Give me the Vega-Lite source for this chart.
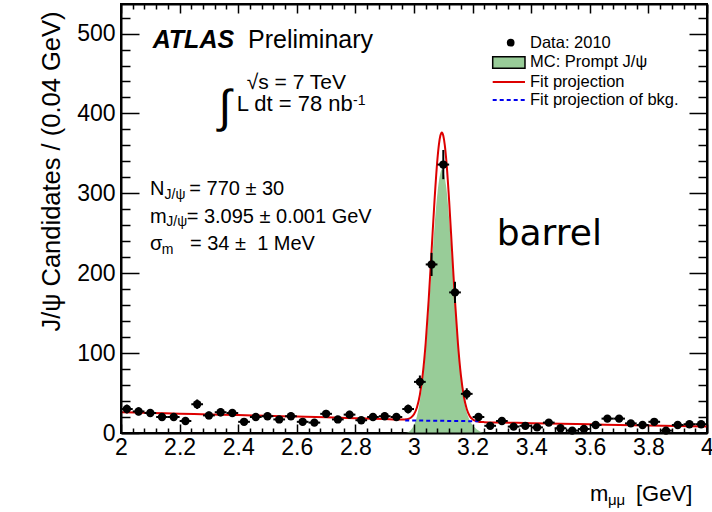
{
  "$schema": "https://vega.github.io/schema/vega-lite/v6.json",
  "width": 586,
  "height": 429,
  "autosize": {"type": "none"},
  "padding": {"left": 121, "top": 4, "right": 5, "bottom": 79},
  "background": "white",
  "config": {
    "view": {"stroke": "black", "strokeWidth": 2},
    "font": "Liberation Sans",
    "text": {"font": "Liberation Sans", "color": "black"}
  },
  "datasets": {
    "pts": [
      {"m": 2.02, "n": 30, "lo": 24.5, "hi": 35.5, "x0": 2.00, "x1": 2.04},
      {"m": 2.06, "n": 27, "lo": 21.8, "hi": 32.2, "x0": 2.04, "x1": 2.08},
      {"m": 2.10, "n": 25, "lo": 20.0, "hi": 30.0, "x0": 2.08, "x1": 2.12},
      {"m": 2.14, "n": 20, "lo": 15.5, "hi": 24.5, "x0": 2.12, "x1": 2.16},
      {"m": 2.18, "n": 20, "lo": 15.5, "hi": 24.5, "x0": 2.16, "x1": 2.20},
      {"m": 2.22, "n": 15, "lo": 11.1, "hi": 18.9, "x0": 2.20, "x1": 2.24},
      {"m": 2.26, "n": 36, "lo": 30.0, "hi": 42.0, "x0": 2.24, "x1": 2.28},
      {"m": 2.30, "n": 22, "lo": 17.3, "hi": 26.7, "x0": 2.28, "x1": 2.32},
      {"m": 2.34, "n": 26, "lo": 20.9, "hi": 31.1, "x0": 2.32, "x1": 2.36},
      {"m": 2.38, "n": 25, "lo": 20.0, "hi": 30.0, "x0": 2.36, "x1": 2.40},
      {"m": 2.42, "n": 14, "lo": 10.3, "hi": 17.7, "x0": 2.40, "x1": 2.44},
      {"m": 2.46, "n": 20, "lo": 15.5, "hi": 24.5, "x0": 2.44, "x1": 2.48},
      {"m": 2.50, "n": 21, "lo": 16.4, "hi": 25.6, "x0": 2.48, "x1": 2.52},
      {"m": 2.54, "n": 17, "lo": 12.9, "hi": 21.1, "x0": 2.52, "x1": 2.56},
      {"m": 2.58, "n": 21, "lo": 16.4, "hi": 25.6, "x0": 2.56, "x1": 2.60},
      {"m": 2.62, "n": 14, "lo": 10.3, "hi": 17.7, "x0": 2.60, "x1": 2.64},
      {"m": 2.66, "n": 13, "lo": 9.4, "hi": 16.6, "x0": 2.64, "x1": 2.68},
      {"m": 2.70, "n": 24, "lo": 19.1, "hi": 28.9, "x0": 2.68, "x1": 2.72},
      {"m": 2.74, "n": 17, "lo": 12.9, "hi": 21.1, "x0": 2.72, "x1": 2.76},
      {"m": 2.78, "n": 23, "lo": 18.2, "hi": 27.8, "x0": 2.76, "x1": 2.80},
      {"m": 2.82, "n": 16, "lo": 12.0, "hi": 20.0, "x0": 2.80, "x1": 2.84},
      {"m": 2.86, "n": 20, "lo": 15.5, "hi": 24.5, "x0": 2.84, "x1": 2.88},
      {"m": 2.90, "n": 21, "lo": 16.4, "hi": 25.6, "x0": 2.88, "x1": 2.92},
      {"m": 2.94, "n": 20, "lo": 15.5, "hi": 24.5, "x0": 2.92, "x1": 2.96},
      {"m": 2.98, "n": 30, "lo": 24.5, "hi": 35.5, "x0": 2.96, "x1": 3.00},
      {"m": 3.02, "n": 64, "lo": 56.0, "hi": 72.0, "x0": 3.00, "x1": 3.04},
      {"m": 3.06, "n": 211, "lo": 196.5, "hi": 225.5, "x0": 3.04, "x1": 3.08},
      {"m": 3.10, "n": 336, "lo": 317.7, "hi": 354.3, "x0": 3.08, "x1": 3.12},
      {"m": 3.14, "n": 176, "lo": 162.7, "hi": 189.3, "x0": 3.12, "x1": 3.16},
      {"m": 3.18, "n": 49, "lo": 42.0, "hi": 56.0, "x0": 3.16, "x1": 3.20},
      {"m": 3.22, "n": 20, "lo": 15.5, "hi": 24.5, "x0": 3.20, "x1": 3.24},
      {"m": 3.26, "n": 9, "lo": 6.0, "hi": 12.0, "x0": 3.24, "x1": 3.28},
      {"m": 3.30, "n": 15, "lo": 11.1, "hi": 18.9, "x0": 3.28, "x1": 3.32},
      {"m": 3.34, "n": 8, "lo": 5.2, "hi": 10.8, "x0": 3.32, "x1": 3.36},
      {"m": 3.38, "n": 9, "lo": 6.0, "hi": 12.0, "x0": 3.36, "x1": 3.40},
      {"m": 3.42, "n": 7, "lo": 4.4, "hi": 9.6, "x0": 3.40, "x1": 3.44},
      {"m": 3.46, "n": 13, "lo": 9.4, "hi": 16.6, "x0": 3.44, "x1": 3.48},
      {"m": 3.50, "n": 6, "lo": 3.6, "hi": 8.4, "x0": 3.48, "x1": 3.52},
      {"m": 3.54, "n": 3, "lo": 1.3, "hi": 4.7, "x0": 3.52, "x1": 3.56},
      {"m": 3.58, "n": 5, "lo": 2.8, "hi": 7.2, "x0": 3.56, "x1": 3.60},
      {"m": 3.62, "n": 10, "lo": 6.8, "hi": 13.2, "x0": 3.60, "x1": 3.64},
      {"m": 3.66, "n": 18, "lo": 13.8, "hi": 22.2, "x0": 3.64, "x1": 3.68},
      {"m": 3.70, "n": 18, "lo": 13.8, "hi": 22.2, "x0": 3.68, "x1": 3.72},
      {"m": 3.74, "n": 12, "lo": 8.5, "hi": 15.5, "x0": 3.72, "x1": 3.76},
      {"m": 3.78, "n": 10, "lo": 6.8, "hi": 13.2, "x0": 3.76, "x1": 3.80},
      {"m": 3.82, "n": 14, "lo": 10.3, "hi": 17.7, "x0": 3.80, "x1": 3.84},
      {"m": 3.86, "n": 3, "lo": 1.3, "hi": 4.7, "x0": 3.84, "x1": 3.88},
      {"m": 3.90, "n": 10, "lo": 6.8, "hi": 13.2, "x0": 3.88, "x1": 3.92},
      {"m": 3.94, "n": 11, "lo": 7.7, "hi": 14.3, "x0": 3.92, "x1": 3.96},
      {"m": 3.98, "n": 11, "lo": 7.7, "hi": 14.3, "x0": 3.96, "x1": 4.00}
    ],
    "fit": [
      {"m": 2.0, "n": 26}, {"m": 2.1, "n": 25.1}, {"m": 2.2, "n": 24.2}, {"m": 2.3, "n": 23.3},
      {"m": 2.4, "n": 22.4}, {"m": 2.5, "n": 21.5}, {"m": 2.6, "n": 20.6}, {"m": 2.7, "n": 19.6},
      {"m": 2.8, "n": 18.6}, {"m": 2.9, "n": 17.5}, {"m": 2.94, "n": 16.9}, {"m": 2.95, "n": 16.8},
      {"m": 2.96, "n": 16.8}, {"m": 2.97, "n": 17.0}, {"m": 2.98, "n": 17.6}, {"m": 2.99, "n": 19.4},
      {"m": 3.00, "n": 23.5}, {"m": 3.01, "n": 32.0}, {"m": 3.02, "n": 47.7}, {"m": 3.03, "n": 73.9},
      {"m": 3.04, "n": 113.3}, {"m": 3.05, "n": 166.0}, {"m": 3.06, "n": 228.0}, {"m": 3.07, "n": 290.9},
      {"m": 3.08, "n": 342.8}, {"m": 3.085, "n": 361.0}, {"m": 3.09, "n": 372.3}, {"m": 3.095, "n": 376.2},
      {"m": 3.10, "n": 372.2}, {"m": 3.105, "n": 360.8}, {"m": 3.11, "n": 342.5}, {"m": 3.12, "n": 290.4},
      {"m": 3.13, "n": 227.3}, {"m": 3.14, "n": 165.0}, {"m": 3.15, "n": 112.1}, {"m": 3.16, "n": 72.4},
      {"m": 3.17, "n": 46.0}, {"m": 3.18, "n": 30.1}, {"m": 3.19, "n": 21.4}, {"m": 3.20, "n": 17.1},
      {"m": 3.21, "n": 15.1}, {"m": 3.22, "n": 14.2}, {"m": 3.23, "n": 13.8}, {"m": 3.24, "n": 13.6},
      {"m": 3.3, "n": 13.1}, {"m": 3.4, "n": 12.3}, {"m": 3.5, "n": 11.5}, {"m": 3.6, "n": 10.8},
      {"m": 3.7, "n": 10.1}, {"m": 3.8, "n": 9.4}, {"m": 3.9, "n": 8.7}, {"m": 4.0, "n": 8.0}
    ],
    "bkg": [
      {"m": 2.97, "n": 15.8}, {"m": 3.05, "n": 15.4}, {"m": 3.15, "n": 15.0}, {"m": 3.22, "n": 14.7}
    ],
    "mc": [
      {"m": 2.97, "n": 0}, {"m": 2.98, "n": 1}, {"m": 2.99, "n": 4}, {"m": 3.00, "n": 10},
      {"m": 3.01, "n": 21}, {"m": 3.02, "n": 40}, {"m": 3.03, "n": 67}, {"m": 3.04, "n": 105},
      {"m": 3.05, "n": 153}, {"m": 3.06, "n": 206}, {"m": 3.07, "n": 258}, {"m": 3.08, "n": 300},
      {"m": 3.09, "n": 325}, {"m": 3.095, "n": 330}, {"m": 3.10, "n": 327}, {"m": 3.11, "n": 308},
      {"m": 3.12, "n": 268}, {"m": 3.13, "n": 216}, {"m": 3.14, "n": 160}, {"m": 3.15, "n": 110},
      {"m": 3.16, "n": 70}, {"m": 3.17, "n": 42}, {"m": 3.18, "n": 26}, {"m": 3.19, "n": 16},
      {"m": 3.20, "n": 10}, {"m": 3.21, "n": 6}, {"m": 3.22, "n": 3}, {"m": 3.23, "n": 1}, {"m": 3.24, "n": 0}
    ]
  },
  "layer": [
    {
      "data": {"name": "mc"},
      "mark": {"type": "area", "color": "#98CC98", "interpolate": "monotone"},
      "encoding": {
        "x": {
          "field": "m", "type": "quantitative",
          "scale": {"domain": [2, 4], "nice": false, "zero": false},
          "axis": {
            "orient": "bottom", "title": null, "grid": false, "zindex": 1,
            "values": [2, 2.04, 2.08, 2.12, 2.16, 2.2, 2.24, 2.28, 2.32, 2.36, 2.4, 2.44, 2.48, 2.52, 2.56, 2.6, 2.64, 2.68, 2.72, 2.76, 2.8, 2.84, 2.88, 2.92, 2.96, 3, 3.04, 3.08, 3.12, 3.16, 3.2, 3.24, 3.28, 3.32, 3.36, 3.4, 3.44, 3.48, 3.52, 3.56, 3.6, 3.64, 3.68, 3.72, 3.76, 3.8, 3.84, 3.88, 3.92, 3.96, 4],
            "labelExpr": "abs(datum.value*5 - round(datum.value*5)) < 0.001 ? format(datum.value, '.1~f') : ''",
            "tickSize": {"condition": {"test": "abs(datum.value*5 - round(datum.value*5)) < 0.001", "value": -9}, "value": -5},
            "labelPadding": 12,
            "labelFlush": false, "labelOverlap": false,
            "labelFont": "Liberation Sans", "labelFontSize": 23, "labelColor": "black",
            "domainColor": "black", "domainWidth": 2, "tickColor": "black", "tickWidth": 1.5
          }
        },
        "y": {
          "field": "n", "type": "quantitative",
          "scale": {"domain": [0, 537], "nice": false, "zero": false},
          "axis": {
            "orient": "left", "grid": false, "zindex": 1,
            "title": "J/ψ Candidates / (0.04 GeV)",
            "titleFont": "Liberation Sans", "titleFontSize": 25.5, "titleFontWeight": "normal", "titleColor": "black",
            "titleAnchor": "end", "titlePadding": 12, "titleY": 7,
            "values": [0, 20, 40, 60, 80, 100, 120, 140, 160, 180, 200, 220, 240, 260, 280, 300, 320, 340, 360, 380, 400, 420, 440, 460, 480, 500, 520],
            "labelExpr": "datum.value % 100 == 0 ? datum.label : ''",
            "tickSize": {"condition": {"test": "datum.value % 100 == 0", "value": -18}, "value": -9},
            "labelPadding": 24,
            "labelOverlap": false, "labelFlush": false,
            "labelFont": "Liberation Sans", "labelFontSize": 23, "labelColor": "black",
            "domainColor": "black", "domainWidth": 2, "tickColor": "black", "tickWidth": 1.5
          }
        }
      }
    },
    {
      "data": {"name": "fit"},
      "mark": {"type": "line", "color": "#dd0000", "strokeWidth": 2, "interpolate": "monotone"},
      "encoding": {
        "x": {
          "field": "m", "type": "quantitative",
          "axis": {
            "orient": "top", "title": null, "grid": false, "labels": false, "zindex": 1,
            "values": [2, 2.04, 2.08, 2.12, 2.16, 2.2, 2.24, 2.28, 2.32, 2.36, 2.4, 2.44, 2.48, 2.52, 2.56, 2.6, 2.64, 2.68, 2.72, 2.76, 2.8, 2.84, 2.88, 2.92, 2.96, 3, 3.04, 3.08, 3.12, 3.16, 3.2, 3.24, 3.28, 3.32, 3.36, 3.4, 3.44, 3.48, 3.52, 3.56, 3.6, 3.64, 3.68, 3.72, 3.76, 3.8, 3.84, 3.88, 3.92, 3.96, 4],
            "tickSize": {"condition": {"test": "abs(datum.value*5 - round(datum.value*5)) < 0.001", "value": -9}, "value": -5},
            "domainColor": "black", "domainWidth": 2, "tickColor": "black", "tickWidth": 1.5
          }
        },
        "y": {
          "field": "n", "type": "quantitative",
          "axis": {
            "orient": "right", "title": null, "grid": false, "labels": false, "zindex": 1,
            "values": [0, 20, 40, 60, 80, 100, 120, 140, 160, 180, 200, 220, 240, 260, 280, 300, 320, 340, 360, 380, 400, 420, 440, 460, 480, 500, 520],
            "tickSize": {"condition": {"test": "datum.value % 100 == 0", "value": -18}, "value": -9},
            "domainColor": "black", "domainWidth": 2, "tickColor": "black", "tickWidth": 1.5
          }
        }
      }
    },
    {
      "data": {"name": "bkg"},
      "mark": {"type": "line", "color": "#0000ee", "strokeWidth": 2, "strokeDash": [4, 3]},
      "encoding": {
        "x": {"field": "m", "type": "quantitative", "axis": null},
        "y": {"field": "n", "type": "quantitative", "axis": null}
      }
    },
    {
      "data": {"name": "pts"},
      "mark": {"type": "rule", "color": "black", "strokeWidth": 2},
      "encoding": {
        "x": {"field": "m", "type": "quantitative", "axis": null},
        "y": {"field": "lo", "type": "quantitative", "axis": null},
        "y2": {"field": "hi"}
      }
    },
    {
      "data": {"name": "pts"},
      "mark": {"type": "rule", "color": "black", "strokeWidth": 2},
      "encoding": {
        "x": {"field": "x0", "type": "quantitative", "axis": null},
        "x2": {"field": "x1"},
        "y": {"field": "n", "type": "quantitative", "axis": null}
      }
    },
    {
      "data": {"name": "pts"},
      "mark": {"type": "point", "shape": "circle", "filled": true, "color": "black", "opacity": 1, "size": 70},
      "encoding": {
        "x": {"field": "m", "type": "quantitative", "axis": null},
        "y": {"field": "n", "type": "quantitative", "axis": null}
      }
    },
    {
      "data": {"values": [{}]},
      "mark": {"type": "text", "text": "ATLAS", "align": "left", "baseline": "alphabetic", "fontSize": 25, "fontWeight": "bold", "fontStyle": "italic"},
      "encoding": {"x": {"datum": 2.108, "type": "quantitative", "axis": null}, "y": {"datum": 481.9, "type": "quantitative", "axis": null}}
    },
    {
      "data": {"values": [{}]},
      "mark": {"type": "text", "text": "Preliminary", "align": "left", "baseline": "alphabetic", "fontSize": 25},
      "encoding": {"x": {"datum": 2.4334, "type": "quantitative", "axis": null}, "y": {"datum": 481.9, "type": "quantitative", "axis": null}}
    },
    {
      "data": {"values": [{}]},
      "mark": {"type": "text", "text": "√s = 7 TeV", "align": "left", "baseline": "alphabetic", "fontSize": 21},
      "encoding": {"x": {"datum": 2.429, "type": "quantitative", "axis": null}, "y": {"datum": 430.5, "type": "quantitative", "axis": null}}
    },
    {
      "data": {"values": [{}]},
      "mark": {"type": "text", "text": "∫", "align": "center", "baseline": "alphabetic", "fontSize": 46},
      "encoding": {"x": {"datum": 2.355, "type": "quantitative", "axis": null}, "y": {"datum": 389.5, "type": "quantitative", "axis": null}}
    },
    {
      "data": {"values": [{}]},
      "mark": {"type": "text", "text": "L dt = 78 nb", "align": "left", "baseline": "alphabetic", "fontSize": 22},
      "encoding": {"x": {"datum": 2.3949, "type": "quantitative", "axis": null}, "y": {"datum": 403.5, "type": "quantitative", "axis": null}}
    },
    {
      "data": {"values": [{}]},
      "mark": {"type": "text", "text": "-1", "align": "left", "baseline": "alphabetic", "fontSize": 14},
      "encoding": {"x": {"datum": 2.7918, "type": "quantitative", "axis": null}, "y": {"datum": 410.5, "type": "quantitative", "axis": null}}
    },
    {
      "data": {"values": [{}]},
      "mark": {"type": "text", "text": "N", "align": "left", "baseline": "alphabetic", "fontSize": 20},
      "encoding": {"x": {"datum": 2.099, "type": "quantitative", "axis": null}, "y": {"datum": 297.9, "type": "quantitative", "axis": null}}
    },
    {
      "data": {"values": [{}]},
      "mark": {"type": "text", "text": "J/ψ", "align": "left", "baseline": "alphabetic", "fontSize": 14},
      "encoding": {"x": {"datum": 2.1485, "type": "quantitative", "axis": null}, "y": {"datum": 293.5, "type": "quantitative", "axis": null}}
    },
    {
      "data": {"values": [{}]},
      "mark": {"type": "text", "text": "= 770 ± 30", "align": "left", "baseline": "alphabetic", "fontSize": 20},
      "encoding": {"x": {"datum": 2.2331, "type": "quantitative", "axis": null}, "y": {"datum": 297.9, "type": "quantitative", "axis": null}}
    },
    {
      "data": {"values": [{}]},
      "mark": {"type": "text", "text": "m", "align": "left", "baseline": "alphabetic", "fontSize": 20},
      "encoding": {"x": {"datum": 2.099, "type": "quantitative", "axis": null}, "y": {"datum": 262.5, "type": "quantitative", "axis": null}}
    },
    {
      "data": {"values": [{}]},
      "mark": {"type": "text", "text": "J/ψ", "align": "left", "baseline": "alphabetic", "fontSize": 14},
      "encoding": {"x": {"datum": 2.1547, "type": "quantitative", "axis": null}, "y": {"datum": 258.5, "type": "quantitative", "axis": null}}
    },
    {
      "data": {"values": [{}]},
      "mark": {"type": "text", "text": "= 3.095 ± 0.001 GeV", "align": "left", "baseline": "alphabetic", "fontSize": 20},
      "encoding": {"x": {"datum": 2.2242, "type": "quantitative", "axis": null}, "y": {"datum": 262.5, "type": "quantitative", "axis": null}}
    },
    {
      "data": {"values": [{}]},
      "mark": {"type": "text", "text": "σ", "align": "left", "baseline": "alphabetic", "fontSize": 20},
      "encoding": {"x": {"datum": 2.099, "type": "quantitative", "axis": null}, "y": {"datum": 229.1, "type": "quantitative", "axis": null}}
    },
    {
      "data": {"values": [{}]},
      "mark": {"type": "text", "text": "m", "align": "left", "baseline": "alphabetic", "fontSize": 14},
      "encoding": {"x": {"datum": 2.1395, "type": "quantitative", "axis": null}, "y": {"datum": 223.6, "type": "quantitative", "axis": null}}
    },
    {
      "data": {"values": [{}]},
      "mark": {"type": "text", "text": "= 34 ±\u00a0 1 MeV", "align": "left", "baseline": "alphabetic", "fontSize": 20},
      "encoding": {"x": {"datum": 2.2355, "type": "quantitative", "axis": null}, "y": {"datum": 229.1, "type": "quantitative", "axis": null}}
    },
    {
      "data": {"values": [{}]},
      "mark": {"type": "text", "text": "barrel", "align": "left", "baseline": "alphabetic", "fontSize": 36, "font": "DejaVu Sans"},
      "encoding": {"x": {"datum": 3.2822, "type": "quantitative", "axis": null}, "y": {"datum": 235.3, "type": "quantitative", "axis": null}}
    },
    {
      "data": {"values": [{}]},
      "mark": {"type": "point", "shape": "circle", "filled": true, "color": "black", "opacity": 1, "size": 60},
      "encoding": {"x": {"datum": 3.330, "type": "quantitative", "axis": null}, "y": {"datum": 488.5, "type": "quantitative", "axis": null}}
    },
    {
      "data": {"values": [{}]},
      "mark": {"type": "rect", "fill": "#98CC98", "stroke": "black", "strokeWidth": 1.5},
      "encoding": {
        "x": {"datum": 3.2686, "type": "quantitative", "axis": null}, "x2": {"datum": 3.3788},
        "y": {"datum": 471.0, "type": "quantitative", "axis": null}, "y2": {"datum": 456.5}
      }
    },
    {
      "data": {"values": [{}]},
      "mark": {"type": "rule", "color": "#dd0000", "strokeWidth": 2},
      "encoding": {
        "x": {"datum": 3.2686, "type": "quantitative", "axis": null}, "x2": {"datum": 3.3788},
        "y": {"datum": 439.4, "type": "quantitative", "axis": null}
      }
    },
    {
      "data": {"values": [{}]},
      "mark": {"type": "rule", "color": "#0000ee", "strokeWidth": 2, "strokeDash": [4, 3]},
      "encoding": {
        "x": {"datum": 3.2686, "type": "quantitative", "axis": null}, "x2": {"datum": 3.3788},
        "y": {"datum": 416.8, "type": "quantitative", "axis": null}
      }
    },
    {
      "data": {"values": [{}]},
      "mark": {"type": "text", "text": "Data: 2010", "align": "left", "baseline": "middle", "fontSize": 16.5},
      "encoding": {"x": {"datum": 3.396, "type": "quantitative", "axis": null}, "y": {"datum": 488.5, "type": "quantitative", "axis": null}}
    },
    {
      "data": {"values": [{}]},
      "mark": {"type": "text", "text": "MC: Prompt J/ψ", "align": "left", "baseline": "middle", "fontSize": 16.5},
      "encoding": {"x": {"datum": 3.396, "type": "quantitative", "axis": null}, "y": {"datum": 464.9, "type": "quantitative", "axis": null}}
    },
    {
      "data": {"values": [{}]},
      "mark": {"type": "text", "text": "Fit projection", "align": "left", "baseline": "middle", "fontSize": 16.5},
      "encoding": {"x": {"datum": 3.396, "type": "quantitative", "axis": null}, "y": {"datum": 439.4, "type": "quantitative", "axis": null}}
    },
    {
      "data": {"values": [{}]},
      "mark": {"type": "text", "text": "Fit projection of bkg.", "align": "left", "baseline": "middle", "fontSize": 16.5},
      "encoding": {"x": {"datum": 3.396, "type": "quantitative", "axis": null}, "y": {"datum": 416.8, "type": "quantitative", "axis": null}}
    },
    {
      "data": {"values": [{}]},
      "mark": {"type": "text", "text": "m", "align": "left", "baseline": "alphabetic", "fontSize": 22},
      "encoding": {"x": {"datum": 3.6007, "type": "quantitative", "axis": null}, "y": {"datum": -84.5, "type": "quantitative", "axis": null}}
    },
    {
      "data": {"values": [{}]},
      "mark": {"type": "text", "text": "μμ", "align": "left", "baseline": "alphabetic", "fontSize": 15},
      "encoding": {"x": {"datum": 3.662, "type": "quantitative", "axis": null}, "y": {"datum": -90.7, "type": "quantitative", "axis": null}}
    },
    {
      "data": {"values": [{}]},
      "mark": {"type": "text", "text": "[GeV]", "align": "left", "baseline": "alphabetic", "fontSize": 22},
      "encoding": {"x": {"datum": 3.7577, "type": "quantitative", "axis": null}, "y": {"datum": -84.5, "type": "quantitative", "axis": null}}
    }
  ],
  "resolve": {"axis": {"x": "independent", "y": "independent"}}
}
